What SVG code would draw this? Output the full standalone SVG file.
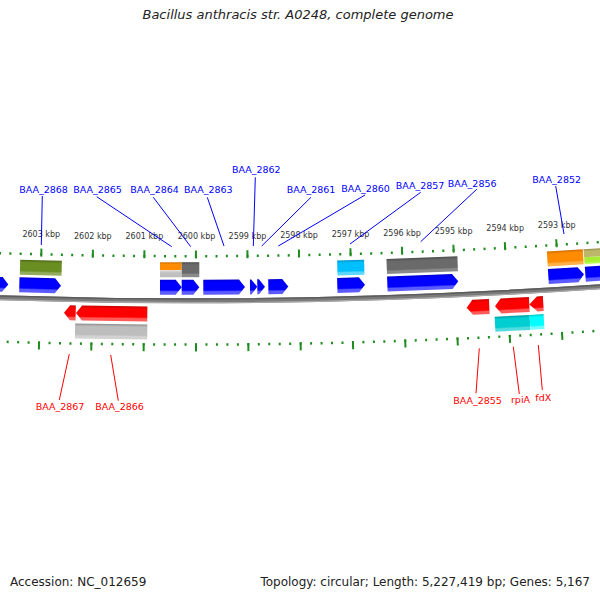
<svg xmlns="http://www.w3.org/2000/svg" width="600" height="600" viewBox="0 0 600 600">
<defs>
<linearGradient id="gBlue" x1="0" y1="0" x2="0" y2="1"><stop offset="0" stop-color="#0000c8"/><stop offset="0.15" stop-color="#0000ff"/><stop offset="0.7" stop-color="#0000ff"/><stop offset="0.8" stop-color="#5a5aff"/><stop offset="1" stop-color="#5a5aff"/></linearGradient>
<linearGradient id="gRed" x1="0" y1="0" x2="0" y2="1"><stop offset="0" stop-color="#c40000"/><stop offset="0.18" stop-color="#ff0000"/><stop offset="0.72" stop-color="#ff0000"/><stop offset="0.82" stop-color="#ff5a5a"/><stop offset="1" stop-color="#ff5a5a"/></linearGradient>
<linearGradient id="gOlive" x1="0" y1="0" x2="0" y2="1"><stop offset="0" stop-color="#4f6a1a"/><stop offset="0.18" stop-color="#6b8e23"/><stop offset="0.72" stop-color="#6b8e23"/><stop offset="0.82" stop-color="#93ad5f"/><stop offset="1" stop-color="#93ad5f"/></linearGradient>
<linearGradient id="gOrange" x1="0" y1="0" x2="0" y2="1"><stop offset="0" stop-color="#cc6f00"/><stop offset="0.18" stop-color="#ff8c00"/><stop offset="0.72" stop-color="#ff8c00"/><stop offset="0.82" stop-color="#ffb048"/><stop offset="1" stop-color="#ffb048"/></linearGradient>
<linearGradient id="gOrangeTop" x1="0" y1="0" x2="0" y2="1"><stop offset="0" stop-color="#cc6f00"/><stop offset="0.3" stop-color="#ff8c00"/><stop offset="1" stop-color="#ff8c00"/></linearGradient>
<linearGradient id="gLgray" x1="0" y1="0" x2="0" y2="1"><stop offset="0" stop-color="#8e8e8e"/><stop offset="0.18" stop-color="#bdbdbd"/><stop offset="0.72" stop-color="#bdbdbd"/><stop offset="0.82" stop-color="#d2d2d2"/><stop offset="1" stop-color="#d2d2d2"/></linearGradient>
<linearGradient id="gLgrayBot" x1="0" y1="0" x2="0" y2="1"><stop offset="0" stop-color="#e0e0e0"/><stop offset="0.35" stop-color="#c4c4c4"/><stop offset="1" stop-color="#bcbcbc"/></linearGradient>
<linearGradient id="gDgray" x1="0" y1="0" x2="0" y2="1"><stop offset="0" stop-color="#4e4e4e"/><stop offset="0.18" stop-color="#6a6a6a"/><stop offset="0.72" stop-color="#6a6a6a"/><stop offset="0.82" stop-color="#8a8a8a"/><stop offset="1" stop-color="#8a8a8a"/></linearGradient>
<linearGradient id="gSky" x1="0" y1="0" x2="0" y2="1"><stop offset="0" stop-color="#0090c0"/><stop offset="0.18" stop-color="#00bfff"/><stop offset="0.72" stop-color="#00bfff"/><stop offset="0.82" stop-color="#5cd5ff"/><stop offset="1" stop-color="#5cd5ff"/></linearGradient>
<linearGradient id="gTurq" x1="0" y1="0" x2="0" y2="1"><stop offset="0" stop-color="#009ea1"/><stop offset="0.18" stop-color="#00ced1"/><stop offset="0.72" stop-color="#00ced1"/><stop offset="0.82" stop-color="#50dcde"/><stop offset="1" stop-color="#50dcde"/></linearGradient>
<linearGradient id="gCyan" x1="0" y1="0" x2="0" y2="1"><stop offset="0" stop-color="#00c4c4"/><stop offset="0.18" stop-color="#00ffff"/><stop offset="0.72" stop-color="#00ffff"/><stop offset="0.82" stop-color="#70ffff"/><stop offset="1" stop-color="#70ffff"/></linearGradient>
<linearGradient id="gKhaki" x1="0" y1="0" x2="0" y2="1"><stop offset="0" stop-color="#968f4f"/><stop offset="0.3" stop-color="#bdb76b"/><stop offset="1" stop-color="#bdb76b"/></linearGradient>
<linearGradient id="gGreen" x1="0" y1="0" x2="0" y2="1"><stop offset="0" stop-color="#a8e83a"/><stop offset="0.6" stop-color="#a8f02f"/><stop offset="1" stop-color="#c4ff70"/></linearGradient>
</defs>
<style>
.t{font-family:"DejaVu Sans","Liberation Sans",sans-serif}
.title{font-size:13px;font-style:italic;fill:#222}
.foot{font-size:12px;fill:#222}
.kbp{font-size:8px;fill:#333;text-anchor:middle}
.lf{font-size:9.5px;fill:#0000ff;text-anchor:middle}
.lr{font-size:9.5px;fill:#ff0000;text-anchor:middle}
.cf{stroke:#0000ff;stroke-width:1;fill:none}
.cr{stroke:#ff0000;stroke-width:1;fill:none}
.tick{fill:none;stroke:#1e8c1e}
</style>
<rect width="600" height="600" fill="#ffffff"/>

<text class="t title" x="298" y="18.5" text-anchor="middle">Bacillus anthracis str. A0248, complete genome</text>

<g id="ticks">
<path class="tick" d="M -10.26 252.83 A 5955.4 5955.4 0 0 0 608.01 241.51" stroke-width="2.5" stroke-dasharray="2 8.3109" stroke-dashoffset="1"/>
<path class="tick" d="M -10.20 251.13 A 5953.7 5953.7 0 0 0 607.89 239.82" stroke-width="8" stroke-dasharray="2 49.540" stroke-dashoffset="1"/>
<path class="tick" d="M -13.23 341.18 A 6043.8 6043.8 0 0 0 614.22 329.69" stroke-width="2.5" stroke-dasharray="2 8.464" stroke-dashoffset="1"/>
<path class="tick" d="M -13.33 343.98 A 6046.6 6046.6 0 0 0 614.42 332.49" stroke-width="8" stroke-dasharray="2 50.344" stroke-dashoffset="1"/>
</g>

<g id="scale-labels" class="t">
<text class="kbp" x="41.3" y="237.46">2603 kbp</text>
<text class="kbp" x="92.84" y="238.51">2602 kbp</text>
<text class="kbp" x="144.38" y="239.13">2601 kbp</text>
<text class="kbp" x="196.5" y="239.3">2600 kbp</text>
<text class="kbp" x="247.46" y="239.02">2599 kbp</text>
<text class="kbp" x="299.0" y="238.31">2598 kbp</text>
<text class="kbp" x="350.54" y="237.15">2597 kbp</text>
<text class="kbp" x="402.08" y="235.55">2596 kbp</text>
<text class="kbp" x="453.62" y="233.51">2595 kbp</text>
<text class="kbp" x="505.16" y="231.02">2594 kbp</text>
<text class="kbp" x="556.7" y="228.09">2593 kbp</text>
</g>

<g id="backbone">
<path d="M -11.76 297.41 A 6000 6000 0 0 0 611.15 286.00" fill="none" stroke="#7a7a7a" stroke-width="5"/>
<path d="M -11.70 295.61 A 5998.2 5998.2 0 0 0 611.02 284.21" fill="none" stroke="#5c5c5c" stroke-width="1.4"/>
<path d="M -11.82 299.31 A 6001.9 6001.9 0 0 0 611.28 287.90" fill="none" stroke="#a8a8a8" stroke-width="1.3"/>
</g>

<g id="forward-genes" fill="url(#gBlue)">
<g id="gene-f0" transform="translate(-1.85,284.13) rotate(1.832)"><polygon points="-10.15,-7.5 4.15,-7.5 10.15,0 4.15,7.5 -10.15,7.5"/></g>
<g id="gene-BAA_2868" transform="translate(40.15,285.33) rotate(1.431)"><polygon points="-20.85,-7.5 14.85,-7.5 20.85,0 14.85,7.5 -20.85,7.5"/></g>
<g id="gene-BAA_2865" transform="translate(170.85,287.17) rotate(0.183)"><polygon points="-10.85,-7.5 4.85,-7.5 10.85,0 4.85,7.5 -10.85,7.5"/></g>
<g id="gene-BAA_2864" transform="translate(190.5,287.2)"><polygon points="-8.8,-7.5 2.8,-7.5 8.8,0 2.8,7.5 -8.8,7.5"/></g>
<g id="gene-BAA_2863" transform="translate(224.15,287.1) rotate(-0.326)"><polygon points="-20.85,-7.5 14.85,-7.5 20.85,0 14.85,7.5 -20.85,7.5"/></g>
<g id="gene-BAA_2862" transform="translate(253.65,286.86) rotate(-0.608)"><polygon points="-3.65,-7.5 -2.35,-7.5 3.65,0 -2.35,7.5 -3.65,7.5"/></g>
<g id="gene-f6" transform="translate(261.15,286.78) rotate(-0.679)"><polygon points="-3.85,-7.5 -2.15,-7.5 3.85,0 -2.15,7.5 -3.85,7.5"/></g>
<g id="gene-BAA_2861" transform="translate(278.3,286.55) rotate(-0.843)"><polygon points="-10,-7.5 4,-7.5 10,0 4,7.5 -10,7.5"/></g>
<g id="gene-BAA_2860" transform="translate(351.15,285.04) rotate(-1.539)"><polygon points="-13.85,-7.5 7.85,-7.5 13.85,0 7.85,7.5 -13.85,7.5"/></g>
<g id="gene-BAA_2857" transform="translate(422.8,282.68) rotate(-2.223)"><polygon points="-35.5,-7.5 29.5,-7.5 35.5,0 29.5,7.5 -35.5,7.5"/></g>
<g id="gene-BAA_2852" transform="translate(566.15,275.41) rotate(-3.592)"><polygon points="-17.85,-7.5 11.85,-7.5 17.85,0 11.85,7.5 -17.85,7.5"/></g>
<g id="gene-f11" transform="translate(600.15,273.18) rotate(-3.917)"><polygon points="-14.85,-7.5 8.85,-7.5 14.85,0 8.85,7.5 -14.85,7.5"/></g>
</g>

<g id="forward-cog">
<g id="cog-BAA_2868" transform="translate(40.85,267.85) rotate(1.424)"><rect x="-20.85" y="-7.5" width="41.7" height="15" fill="url(#gOlive)"/></g>
<g id="cog-BAA_2865" transform="translate(170.85,269.67) rotate(0.183)"><rect x="-10.85" y="-7.5" width="21.7" height="8" fill="url(#gOrangeTop)"/><rect x="-10.85" y="0.5" width="21.7" height="7" fill="url(#gLgrayBot)"/></g>
<g id="cog-BAA_2864" transform="translate(190.5,269.7)"><rect x="-8.8" y="-7.5" width="17.6" height="15" fill="url(#gDgray)"/></g>
<g id="cog-BAA_2860" transform="translate(350.8,267.55) rotate(-1.536)"><rect x="-13.5" y="-7.5" width="27" height="15" fill="url(#gSky)"/></g>
<g id="cog-BAA_2857" transform="translate(422.2,265.21) rotate(-2.217)"><rect x="-35.5" y="-7.5" width="71" height="15" fill="url(#gDgray)"/></g>
<g id="cog-BAA_2852" transform="translate(565.3,257.96) rotate(-3.584)"><rect x="-18" y="-7.5" width="36" height="15" fill="url(#gOrange)"/></g>
<g id="cog-f11" transform="translate(599.5,255.73) rotate(-3.911)"><rect x="-15.5" y="-7.5" width="31" height="8" fill="url(#gKhaki)"/><rect x="-15.5" y="0.5" width="31" height="7" fill="url(#gGreen)"/></g>
</g>

<g id="reverse-genes" fill="url(#gRed)">
<g id="gene-BAA_2867" transform="translate(69.85,312.8) rotate(1.147)"><polygon points="5.85,-7.5 0.15,-7.5 -5.85,0 0.15,7.5 5.85,7.5"/></g>
<g id="gene-BAA_2866" transform="translate(111.65,313.49) rotate(0.748)"><polygon points="35.65,-7.5 -29.65,-7.5 -35.65,0 -29.65,7.5 35.65,7.5"/></g>
<g id="gene-BAA_2855" transform="translate(478,307.09) rotate(-2.75)"><polygon points="11.3,-7.5 -5.3,-7.5 -11.3,0 -5.3,7.5 11.3,7.5"/></g>
<g id="gene-rpiA" transform="translate(512.15,305.35) rotate(-3.076)"><polygon points="17.15,-7.5 -11.15,-7.5 -17.15,0 -11.15,7.5 17.15,7.5"/></g>
<g id="gene-fdX" transform="translate(536.3,304.01) rotate(-3.307)"><polygon points="7,-7.5 1,-7.5 -7,0 1,7.5 7,7.5"/></g>
</g>

<g id="reverse-cog">
<g id="cog-BAA_2866" transform="translate(111.15,331.48) rotate(0.753)"><rect x="-36.15" y="-7.5" width="72.3" height="15" fill="url(#gLgray)"/></g>
<g id="cog-rpiA" transform="translate(512.5,323.33) rotate(-3.08)"><rect x="-17.5" y="-7.5" width="35" height="15" fill="url(#gTurq)"/></g>
<g id="cog-fdX" transform="translate(537,321.97) rotate(-3.314)"><rect x="-7" y="-7.5" width="14" height="15" fill="url(#gCyan)"/></g>
</g>

<g id="connectors">
<line class="cf" x1="42.3" y1="196" x2="41.3" y2="245"/>
<line class="cf" x1="96.7" y1="196.7" x2="171.7" y2="246.7"/>
<line class="cf" x1="153.3" y1="197.3" x2="190.7" y2="246.7"/>
<line class="cf" x1="207.3" y1="197.3" x2="224" y2="246"/>
<line class="cf" x1="255.3" y1="177.3" x2="253.3" y2="246"/>
<line class="cf" x1="311" y1="197.3" x2="261.7" y2="246"/>
<line class="cf" x1="365" y1="195" x2="278.3" y2="246"/>
<line class="cf" x1="420.7" y1="192.3" x2="350" y2="244"/>
<line class="cf" x1="476.7" y1="189.3" x2="420.7" y2="241.7"/>
<line class="cf" x1="555.7" y1="186" x2="564" y2="234"/>
<line class="cr" x1="69.3" y1="354" x2="59.3" y2="400"/>
<line class="cr" x1="110.7" y1="355" x2="118.3" y2="400.7"/>
<line class="cr" x1="479.3" y1="348.3" x2="476" y2="393.3"/>
<line class="cr" x1="513.3" y1="346.7" x2="519.3" y2="394"/>
<line class="cr" x1="538.3" y1="345" x2="542.3" y2="390"/>
</g>

<g id="labels" class="t">
<g id="lbl-BAA_2868"><text class="lf" x="43.5" y="193.3">BAA_2868</text></g>
<g id="lbl-BAA_2865"><text class="lf" x="97.5" y="193.3">BAA_2865</text></g>
<g id="lbl-BAA_2864"><text class="lf" x="154.5" y="193.3">BAA_2864</text></g>
<g id="lbl-BAA_2863"><text class="lf" x="208.3" y="193.3">BAA_2863</text></g>
<g id="lbl-BAA_2862"><text class="lf" x="256.3" y="173.3">BAA_2862</text></g>
<g id="lbl-BAA_2861"><text class="lf" x="311" y="193.3">BAA_2861</text></g>
<g id="lbl-BAA_2860"><text class="lf" x="365.5" y="192.3">BAA_2860</text></g>
<g id="lbl-BAA_2857"><text class="lf" x="420" y="189.3">BAA_2857</text></g>
<g id="lbl-BAA_2856"><text class="lf" x="472.2" y="187.3">BAA_2856</text></g>
<g id="lbl-BAA_2852"><text class="lf" x="556.7" y="182.7">BAA_2852</text></g>
<g id="lbl-BAA_2867"><text class="lr" x="60" y="409.5">BAA_2867</text></g>
<g id="lbl-BAA_2866"><text class="lr" x="119.5" y="409.5">BAA_2866</text></g>
<g id="lbl-BAA_2855"><text class="lr" x="477.5" y="404">BAA_2855</text></g>
<g id="lbl-rpiA"><text class="lr" x="520.5" y="403.3">rpiA</text></g>
<g id="lbl-fdX"><text class="lr" x="543.3" y="400.5">fdX</text></g>
</g>

<text class="t foot" x="10" y="586">Accession: NC_012659</text>
<text class="t foot" x="590" y="586" text-anchor="end">Topology: circular; Length: 5,227,419 bp; Genes: 5,167</text>
</svg>
